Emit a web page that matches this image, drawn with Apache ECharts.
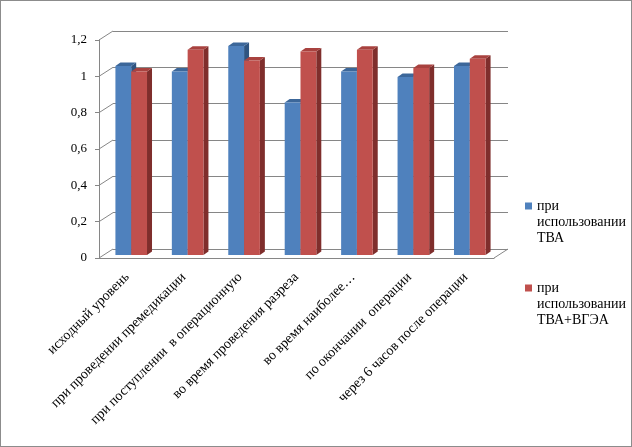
<!DOCTYPE html>
<html>
<head>
<meta charset="utf-8">
<script src="https://cdn.jsdelivr.net/npm/echarts@6/dist/echarts.min.js"></script>
<style>
  html, body { margin: 0; padding: 0; background: #fff; }
  #chart { width: 632px; height: 447px; box-sizing: border-box; border: 1px solid #8c8c8c; }
</style>
</head>
<body>
<div id="chart"></div>
<script>
// данные
const categories = [
  'исходный уровень',
  'при проведении премедикации',
  'при поступлении  в операционную',
  'во время проведения разреза',
  'во время наиболее…',
  'по окончании  операции',
  'через 6 часов после операции'
];
const seriesNames = ['при использовании ТВА', 'при использовании ТВА+ВГЭА'];
const tvaValues = [1.04, 1.01, 1.15, 0.84, 1.01, 0.98, 1.04];
const tvaVgeaValues = [1.01, 1.13, 1.07, 1.12, 1.13, 1.03, 1.08];
const yTicks = [0, 0.2, 0.4, 0.6, 0.8, 1, 1.2];

const FONT = 'Liberation Serif';
const GRID_COLOR = '#868686';
const BACK = [14, -9];   // смещение задней стенки
const SHIFT = [4, -3];   // положение столбцов в глубине
const DEPTH = [5, -3.5]; // глубина столбца

const colors = [
  {front: '#4f81bd', top: '#3c679a', side: '#2f5480'},
  {front: '#c0504d', top: '#a8423f', side: '#7f2e2c'}
];

function barItem(idx) {
  return function (params, api) {
    const i = api.value(0), v = api.value(1);
    const base = api.coord([i, 0]);
    const top = api.coord([i, v]);
    const w = api.size([1, 0])[0] * 0.28;
    const x = base[0] - w + idx * w + SHIFT[0];
    const yb = base[1] + SHIFT[1], yt = top[1] + SHIFT[1];
    const c = colors[idx];
    return {
      type: 'group',
      children: [
        {type: 'polygon', shape: {points: [[x + w, yt], [x + w + DEPTH[0], yt + DEPTH[1]], [x + w + DEPTH[0], yb + DEPTH[1]], [x + w, yb]]}, style: {fill: c.side}},
        {type: 'polygon', shape: {points: [[x, yt], [x + w, yt], [x + w + DEPTH[0], yt + DEPTH[1]], [x + DEPTH[0], yt + DEPTH[1]]]}, style: {fill: c.top}},
        {type: 'rect', shape: {x: x, y: yt, width: w, height: yb - yt}, style: {fill: c.front}}
      ]
    };
  };
}

// диагонали от передней оси к задней стенке
function edgeItem(side) {
  return function (params, api) {
    const p = api.coord([api.value(0), api.value(1)]);
    const half = api.size([1, 0])[0] / 2;
    const x = side === 'left' ? p[0] - half : p[0] + half;
    return {
      type: 'line',
      shape: {x1: x, y1: p[1], x2: x + BACK[0], y2: p[1] + BACK[1]},
      style: {stroke: GRID_COLOR, lineWidth: 1}
    };
  };
}

const chart = echarts.init(document.getElementById('chart'));
chart.setOption({
  animation: false,
  textStyle: {fontFamily: FONT},
  grid: [
    {left: 98, top: 39, width: 395, height: 218},
    {left: 112, top: 30, width: 395, height: 218}
  ],
  legend: {
    data: seriesNames,
    orient: 'vertical',
    left: 519,
    top: 192,
    itemWidth: 7,
    itemHeight: 39,
    itemGap: 34,
    // квадрат у первой строки подписи
    icon: 'path://M0,0H7V7H0Z M0,39L0,39',
    formatter: (name) => name.split(' ').join('\n'),
    textStyle: {fontFamily: FONT, fontSize: 14, color: '#000', lineHeight: 16}
  },
  xAxis: [
    {
      type: 'category',
      gridIndex: 0,
      data: categories,
      axisLine: {lineStyle: {color: GRID_COLOR}},
      axisTick: {length: 5, lineStyle: {color: GRID_COLOR}},
      axisLabel: {rotate: 45, margin: 17, interval: 0, fontFamily: FONT, fontSize: 14, color: '#000'}
    },
    {
      type: 'category',
      gridIndex: 1,
      data: categories,
      show: false
    }
  ],
  yAxis: [
    {
      type: 'value',
      gridIndex: 0,
      min: 0,
      max: 1.2,
      interval: 0.2,
      axisLine: {show: true, lineStyle: {color: GRID_COLOR}},
      axisTick: {show: true, length: 4, lineStyle: {color: GRID_COLOR}},
      splitLine: {show: false},
      axisLabel: {
        margin: 12,
        fontFamily: FONT,
        fontSize: 13,
        color: '#000',
        formatter: (v) => String(Math.round(v * 10) / 10).replace('.', ',')
      }
    },
    {
      type: 'value',
      gridIndex: 1,
      min: 0,
      max: 1.2,
      interval: 0.2,
      axisLine: {show: false},
      axisTick: {show: false},
      axisLabel: {show: false},
      splitLine: {show: true, lineStyle: {color: GRID_COLOR, width: 1}}
    }
  ],
  series: [
    {
      type: 'custom',
      name: 'leftEdge',
      xAxisIndex: 0,
      yAxisIndex: 0,
      renderItem: edgeItem('left'),
      data: yTicks.map((v) => [0, v]),
      silent: true,
      z: 1
    },
    {
      type: 'custom',
      name: 'rightEdge',
      xAxisIndex: 0,
      yAxisIndex: 0,
      renderItem: edgeItem('right'),
      data: [[categories.length - 1, 0]],
      silent: true,
      z: 1
    },
    {
      type: 'custom',
      name: seriesNames[0],
      xAxisIndex: 0,
      yAxisIndex: 0,
      itemStyle: {color: colors[0].front},
      renderItem: barItem(0),
      encode: {x: 0, y: 1},
      data: tvaValues.map((v, i) => [i, v]),
      z: 3
    },
    {
      type: 'custom',
      name: seriesNames[1],
      xAxisIndex: 0,
      yAxisIndex: 0,
      itemStyle: {color: colors[1].front},
      renderItem: barItem(1),
      encode: {x: 0, y: 1},
      data: tvaVgeaValues.map((v, i) => [i, v]),
      z: 4
    }
  ]
});
</script>
</body>
</html>
